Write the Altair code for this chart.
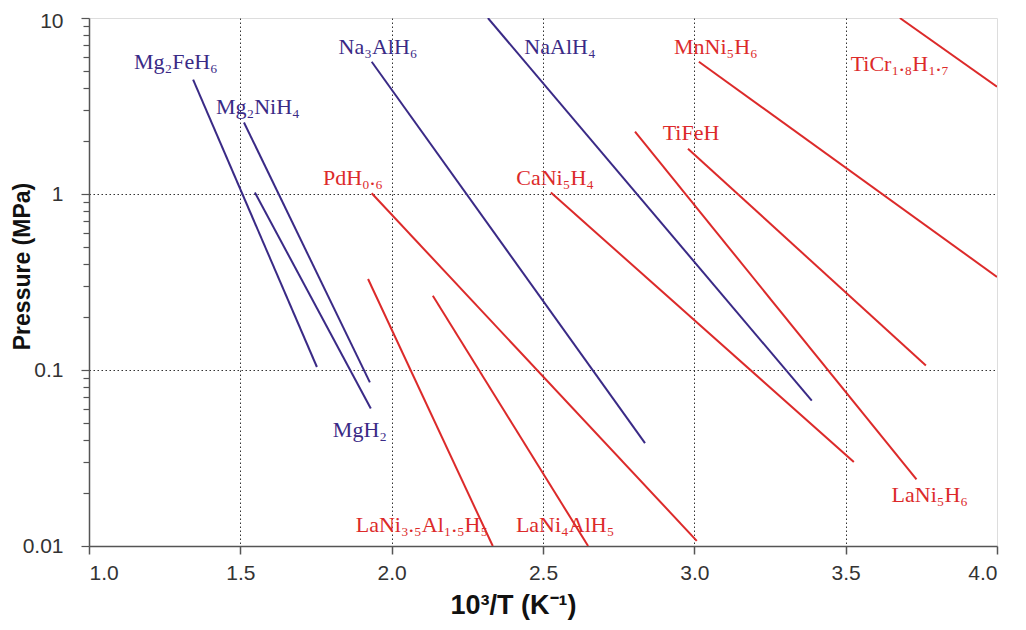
import altair as alt
import pandas as pd

# Line data (van 't Hoff lines): name, group, start and end points
names = ["Mg₂FeH₆", "Mg₂NiH₄", "MgH₂", "Na₃AlH₆", "NaAlH₄",
         "PdH₀.₆", "LaNi₃.₅Al₁.₅H₅", "LaNi₄AlH₅", "CaNi₅H₄",
         "LaNi₅H₆", "TiFeH", "MnNi₅H₆", "TiCr₁.₈H₁.₇"]
groups = ["blue", "blue", "blue", "blue", "blue",
          "red", "red", "red", "red", "red", "red", "red", "red"]
x_start = [1.344, 1.512, 1.548, 1.934, 2.318, 1.934, 1.922, 2.136, 2.526, 2.804, 2.979, 3.015, 3.679]
y_start = [4.46, 2.55, 1.02, 5.64, 10.0, 1.01, 0.329, 0.264, 1.02, 2.26, 1.81, 5.64, 10.0]
x_end = [1.753, 1.928, 1.931, 2.837, 3.388, 3.008, 2.334, 2.649, 3.527, 3.734, 3.765, 4.0, 4.0]
y_end = [0.104, 0.085, 0.0605, 0.0384, 0.067, 0.0107, 0.01, 0.01, 0.030, 0.0239, 0.106, 0.338, 4.07]

# Label data
label_text = ["Mg₂FeH₆", "Mg₂NiH₄", "MgH₂", "Na₃AlH₆", "NaAlH₄",
              "PdH₀.₆", "LaNi₃.₅Al₁.₅H₅", "LaNi₄AlH₅", "CaNi₅H₄",
              "LaNi₅H₆", "TiFeH", "MnNi₅H₆", "TiCr₁.₈H₁.₇"]
label_x = [1.287, 1.558, 1.895, 1.955, 2.556, 1.872, 2.10, 2.573, 2.54, 3.778, 2.989, 3.071, 3.679]
label_y = [5.64, 3.13, 0.0454, 6.85, 6.85, 1.24, 0.0132, 0.0132, 1.24, 0.0195, 2.23, 6.85, 5.49]

x_ticks = [1.0, 1.5, 2.0, 2.5, 3.0, 3.5, 4.0]
y_ticks = [0.01, 0.02, 0.03, 0.04, 0.05, 0.06, 0.07, 0.08, 0.09,
           0.1, 0.2, 0.3, 0.4, 0.5, 0.6, 0.7, 0.8, 0.9,
           1, 2, 3, 4, 5, 6, 7, 8, 9, 10]

rows = []
for n, g, xa, ya, xb, yb in zip(names, groups, x_start, y_start, x_end, y_end):
    rows.append({"name": n, "group": g, "x": xa, "y": ya, "order": 0})
    rows.append({"name": n, "group": g, "x": xb, "y": yb, "order": 1})
lines_df = pd.DataFrame(rows)

labels_df = pd.DataFrame({"text": label_text, "x": label_x, "y": label_y, "group": groups})

color_line = alt.Scale(domain=["blue", "red"], range=["#3a2a86", "#dc2a2a"])
color_text = alt.Scale(domain=["blue", "red"], range=["#45358c", "#d42b2b"])

major_test = "datum.value == 0.01 || datum.value == 0.1 || datum.value == 1 || datum.value == 10"

x_enc = alt.X("x:Q",
              scale=alt.Scale(domain=[1.0, 4.0], nice=False, zero=False),
              axis=alt.Axis(values=x_ticks, format=".1f", title="10³/T (K⁻¹)",
                            labelFont="Liberation Sans", labelFontSize=21, labelColor="#333",
                            labelPadding=8, tickSize=8, tickColor="#555", tickWidth=1.5,
                            domainColor="#555", domainWidth=1.5,
                            grid=True, gridColor="#333", gridDash=[1.5, 2.5], gridWidth=1,
                            gridOpacity={"condition": {"test": "datum.value > 1.01 && datum.value < 3.99", "value": 1}, "value": 0},
                            titleFont="Liberation Sans", titleFontSize=27, titleFontWeight="bold",
                            titleColor="#111", titleX=424, titleY=59, titleBaseline="middle",
                            labelOverlap=False))

y_enc = alt.Y("y:Q",
              scale=alt.Scale(type="log", domain=[0.01, 10], nice=False),
              axis=alt.Axis(values=y_ticks, title="Pressure (MPa)",
                            labelExpr="datum.value == 10 ? '10' : datum.value == 1 ? '1' : datum.value == 0.1 ? '0.1' : datum.value == 0.01 ? '0.01' : ''",
                            labelFont="Liberation Sans", labelFontSize=21, labelColor="#333",
                            labelPadding=18, labelOverlap=False,
                            labelOffset={"condition": {"test": "datum.value == 10", "value": 3}, "value": 0},
                            tickSize={"condition": {"test": major_test, "value": 8}, "value": 6},
                            tickColor="#555", tickWidth=1.2,
                            domainColor="#555", domainWidth=1.5,
                            grid=True, gridColor="#333", gridDash=[1.5, 2.5], gridWidth=1,
                            gridOpacity={"condition": {"test": "datum.value == 0.1 || datum.value == 1", "value": 1}, "value": 0},
                            titleFont="Liberation Sans", titleFontSize=23, titleFontWeight="bold",
                            titleColor="#111", titleX=-67, titleY=248, titleAngle=270,
                            titleBaseline="middle", titleAlign="center"))

lines = alt.Chart(lines_df).mark_line(strokeWidth=2, clip=True).encode(
    x=x_enc, y=y_enc,
    color=alt.Color("group:N", scale=color_line, legend=None),
    detail="name:N",
    order="order:Q",
)

texts = alt.Chart(labels_df).mark_text(font="Liberation Serif", fontSize=22,
                                        align="center", baseline="middle").encode(
    x="x:Q", y="y:Q", text="text:N",
    color=alt.Color("group:N", scale=color_text, legend=None),
)

chart = alt.layer(lines, texts).properties(
    width=908, height=528,
    autosize=alt.AutoSizeParams(type="none"),
    padding={"left": 81, "top": 10, "right": 20, "bottom": 80},
).configure_view(stroke="#666", strokeWidth=1.5).configure(background="white")

chart.save("out.html", embed_options={"renderer": "svg", "actions": False})
